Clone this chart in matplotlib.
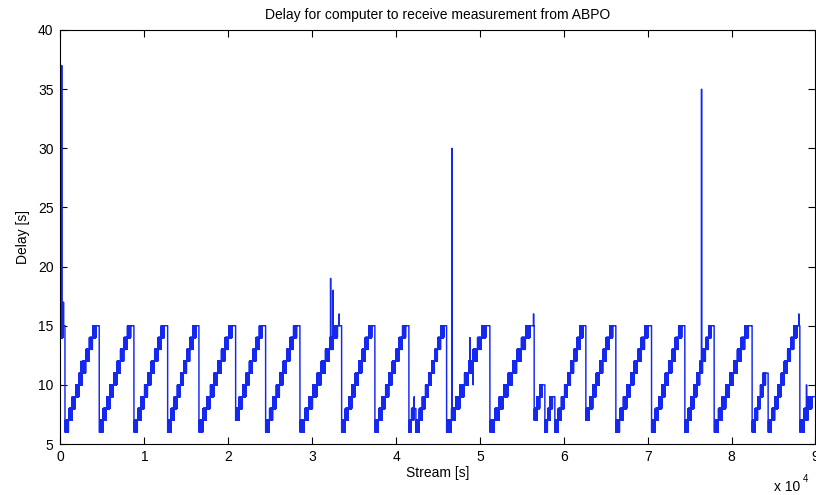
import numpy as np
import matplotlib.pyplot as plt
from matplotlib.ticker import FuncFormatter

plt.rcParams['font.family'] = ['Liberation Sans', 'DejaVu Sans']
plt.rcParams['path.simplify'] = False

# Sawtooth segments: start time [s], first level, last level
seg_start = [0, 536, 4625, 8760, 12777, 16508, 20882, 24458, 28546, 33516,
             37485, 41538, 42372, 46031, 51192, 56472, 57750, 58939, 62634, 66210,
             70465, 74434, 77926, 82455, 84362, 88141]
seg_low = [14, 6, 6, 6, 6, 6, 7, 6, 6, 6,
           6, 6, 6, 6, 6, 7, 6, 6, 7, 6,
           6, 6, 6, 6, 6, 6]
seg_high = [15, 15, 15, 15, 15, 15, 15, 15, 15, 15,
            15, 8, 15, 15, 15, 10, 9, 15, 15, 15,
            15, 15, 15, 11, 15, 9]
t_end = 90000

# single-sample outliers (time [s], delay [s])
spike_t = [150, 360, 2443, 31323, 32205, 32515, 33230, 42170, 46664, 48808,
           49205, 56400, 76424, 88021, 88939]
spike_v = [37, 17, 12, 12, 19, 18, 16, 9, 30, 14,
           10, 16, 35, 16, 10]

dt = 5
flicker = 0.85   # part of each step where the value toggles with the next one

t = np.arange(0, t_end, dt)
delay = np.zeros(len(t))
bounds = seg_start + [t_end]
for i in range(len(seg_start)):
    t0, t1 = bounds[i], bounds[i + 1]
    levels = np.arange(seg_low[i], seg_high[i] + 1)
    dwell = (t1 - t0) / len(levels)
    mask = (t >= t0) & (t < t1)
    tt = t[mask] - t0
    idx = np.minimum((tt // dwell).astype(int), len(levels) - 1)
    y = levels[idx].astype(float)
    frac = (tt % dwell) / dwell
    odd = np.arange(len(tt)) % 2 == 1
    up = (frac > 1 - flicker) & odd & (idx < len(levels) - 1)
    y[up] += 1
    delay[mask] = y

for ts, v in zip(spike_t, spike_v):
    delay[np.argmin(np.abs(t - ts))] = v

fig = plt.figure(figsize=(8.16, 4.95), dpi=100)
ax = fig.add_axes([0.0741, 0.103, 0.9252, 0.8364])

ax.plot(t, delay, color='#1428f0', linewidth=1.05)

ax.set_xlim(0, 90000)
ax.set_ylim(5, 40)
ax.set_xticks(np.arange(0, 90001, 10000))
ax.set_yticks(np.arange(5, 41, 5))
ax.xaxis.set_major_formatter(FuncFormatter(lambda v, p: f"{v / 1e4:.0f}"))
ax.tick_params(direction='in', top=True, right=True, length=5, width=0.8,
               labelsize=10)
ax.tick_params(axis='y', pad=5)
ax.tick_params(axis='x', pad=4)
for s in ax.spines.values():
    s.set_linewidth(0.8)

ax.set_title('Delay for computer to receive measurement from ABPO', fontsize=10, pad=8)
ax.set_xlabel('Stream [s]', fontsize=10, labelpad=2)
ax.set_ylabel('Delay [s]', fontsize=10, labelpad=6)

fig.text(774 / 816, 1 - 491 / 495, 'x 10', fontsize=10, ha='left', va='baseline')
fig.text(803 / 816, 1 - 482 / 495, '4', fontsize=7, ha='left', va='baseline')

fig.savefig('out.png', dpi=100)
